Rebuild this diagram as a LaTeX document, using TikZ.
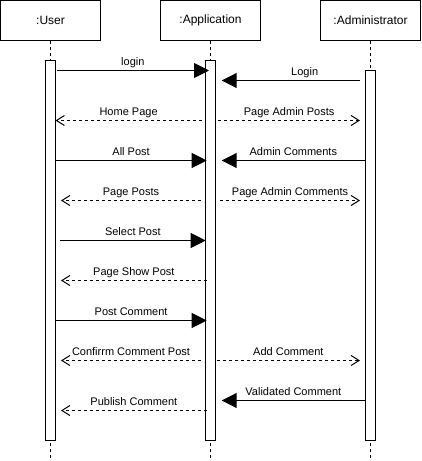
\documentclass[tikz,border=0pt]{standalone}
\usepackage{fontspec}
\setmainfont{Liberation Sans}
\usetikzlibrary{arrows.meta}
\begin{document}
\begin{tikzpicture}[x=1pt,y=-1pt,
  head/.style={draw, line width=1pt, fill=white, minimum width=100pt, minimum height=40pt, inner sep=0pt, font=\fontsize{12}{14}\selectfont},
  bar/.style={draw, line width=1pt, fill=white, minimum width=10pt, inner sep=0pt},
  life/.style={line width=1pt, dash pattern=on 3pt off 3pt},
  call/.style={line width=1pt, -{Triangle[length=15pt,width=15pt]}},
  reply/.style={line width=1pt, dash pattern=on 3pt off 3pt, -{Straight Barb[length=8pt,width=10pt,line width=1pt]}},
  lbl/.style={font=\fontsize{11}{13}\selectfont, anchor=base, yshift=5pt, inner sep=0pt}
]
\useasboundingbox (0,0) rectangle (421,461);
% headers
\node[head] (user) at (50.5,20.5) {:User};
\node[head] (app) at (210.5,20.5) {:Application};
\node[head] (admin) at (370.5,20.5) {:Administrator};
% lifeline ends
\coordinate (userend) at (50.5,461);
\coordinate (append) at (210.5,461);
\coordinate (adminend) at (370.5,461);
\draw[life] (user.south) -- (userend);
\draw[life] (app.south) -- (append);
\draw[life] (admin.south) -- (adminend);
% activation bars
\node[bar, minimum height=380pt] (ubar) at (50.5,250.5) {};
\node[bar, minimum height=380pt] (abar) at (210.5,250.5) {};
\node[bar, minimum height=370pt] (dbar) at (370.5,255.5) {};
% message end points
\coordinate (m1s) at (56.7,70.5);  \coordinate (m1e) at (209,70.5);
\coordinate (m2s) at (360,80.5);   \coordinate (m2e) at (221.7,80.5);
\coordinate (m3s) at (201.7,120.5);\coordinate (m3e) at (55.5,120.5);
\coordinate (m4s) at (218.3,120.5);\coordinate (m4e) at (360,120.5);
\coordinate (m5s) at (55.5,160.5); \coordinate (m5e) at (206.7,160.5);
\coordinate (m6s) at (365,160.5);  \coordinate (m6e) at (221.7,160.5);
\coordinate (m7s) at (201,200.5);  \coordinate (m7e) at (61,200.5);
\coordinate (m8s) at (220,200.5);  \coordinate (m8e) at (360,200.5);
\coordinate (m9s) at (60,240.5);   \coordinate (m9e) at (205.7,240.5);
\coordinate (m10s) at (206.7,280.5);\coordinate (m10e) at (61,280.5);
\coordinate (m11s) at (55.5,320.5); \coordinate (m11e) at (206.7,320.5);
\coordinate (m12s) at (201,360.5);  \coordinate (m12e) at (61,360.5);
\coordinate (m13s) at (216.7,360.5);\coordinate (m13e) at (360,360.5);
\coordinate (m14s) at (365,400.5);  \coordinate (m14e) at (221.7,400.5);
\coordinate (m15s) at (206.7,410.5);\coordinate (m15e) at (61,410.5);
% messages
\draw[call] (m1s) -- node[lbl] {login} (m1e);
\draw[call] (m2s) -- node[lbl, pos=0.4] {Login} (m2e);
\draw[reply] (m3s) -- node[lbl] {Home Page} (m3e);
\draw[reply] (m4s) -- node[lbl] {Page Admin Posts} (m4e);
\draw[call] (m5s) -- node[lbl] {All Post} (m5e);
\draw[call] (m6s) -- node[lbl] {Admin Comments} (m6e);
\draw[reply] (m7s) -- node[lbl] {Page Posts} (m7e);
\draw[reply] (m8s) -- node[lbl] {Page Admin Comments} (m8e);
\draw[call] (m9s) -- node[lbl] {Select Post} (m9e);
\draw[reply] (m10s) -- node[lbl] {Page Show Post} (m10e);
\draw[call] (m11s) -- node[lbl] {Post Comment} (m11e);
\draw[reply] (m12s) -- node[lbl] {Confirrm Comment Post} (m12e);
\draw[reply] (m13s) -- node[lbl] {Add Comment} (m13e);
\draw[call] (m14s) -- node[lbl] {Validated Comment} (m14e);
\draw[reply] (m15s) -- node[lbl] {Publish Comment} (m15e);
\end{tikzpicture}
\end{document}
